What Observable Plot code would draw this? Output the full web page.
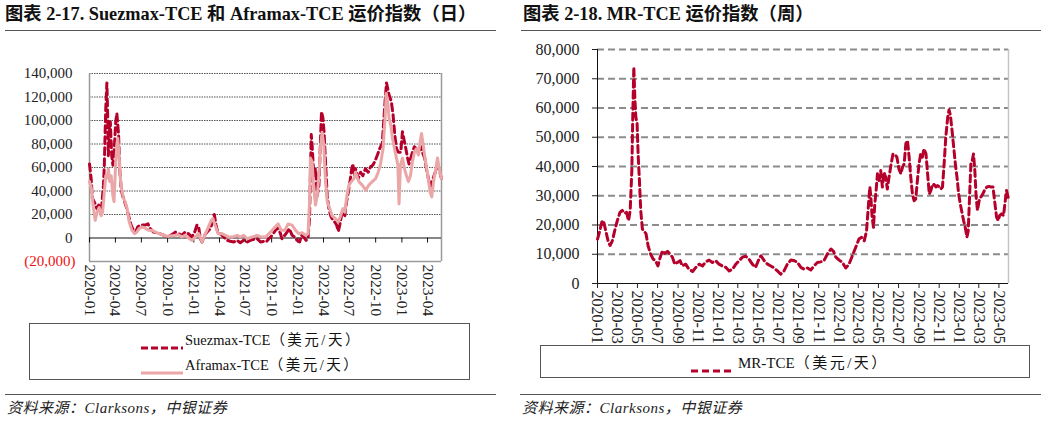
<!DOCTYPE html>
<html><head><meta charset="utf-8">
<script src="https://cdn.jsdelivr.net/npm/d3@7"></script>
<script src="https://cdn.jsdelivr.net/npm/@observablehq/plot@0.6"></script>
<style>
body{margin:0;background:#fff;}
#root{position:relative;width:1041px;height:421px;overflow:hidden;font-family:"Liberation Serif","Noto Sans CJK SC",serif;color:#111;}
.title{position:absolute;top:3px;font-weight:bold;font-size:18.3px;line-height:22px;white-space:nowrap;}
.hr{position:absolute;height:0;border-top:1.5px solid #555;}
.legend{position:absolute;border:1px solid #555;box-sizing:border-box;}
.item{position:absolute;font-size:14.5px;line-height:18px;white-space:nowrap;}
.item span{letter-spacing:2.5px;}
.sw{position:absolute;}
.src{position:absolute;top:399px;font-style:italic;font-size:15px;line-height:18px;white-space:nowrap;color:#222;letter-spacing:0.5px;}
svg.chart{position:absolute;top:0;}
</style></head><body><div id="root"></div>
<script>
// ---------- data ----------
const leftTitle = "图表 2-17. Suezmax-TCE 和 Aframax-TCE 运价指数（日）";
const rightTitle = "图表 2-18. MR-TCE 运价指数（周）";
const sourceText = "资料来源：Clarksons，中银证券";
const suezName = "Suezmax-TCE（美元/天）";
const afraName = "Aframax-TCE（美元/天）";
const mrName = "MR-TCE（美元/天）";

const leftXDomain = ["2020-01-01", "2023-05-20"];
const leftYTicks = [-20000, 0, 20000, 40000, 60000, 80000, 100000, 120000, 140000];
const leftXTicks = ["2020-01-01","2020-04-01","2020-07-01","2020-10-01","2021-01-01","2021-04-01","2021-07-01","2021-10-01","2022-01-01","2022-04-01","2022-07-01","2022-10-01","2023-01-01","2023-04-01"];

const rightXDomain = ["2020-01-01", "2023-05-30"];
const rightYTicks = [0, 10000, 20000, 30000, 40000, 50000, 60000, 70000, 80000];
const rightXTicks = ["2020-01-01","2020-03-01","2020-05-01","2020-07-01","2020-09-01","2020-11-01","2021-01-01","2021-03-01","2021-05-01","2021-07-01","2021-09-01","2021-11-01","2022-01-01","2022-03-01","2022-05-01","2022-07-01","2022-09-01","2022-11-01","2023-01-01","2023-03-01","2023-05-01"];

const suezDates = ["2020-01-01","2020-01-07","2020-01-11","2020-01-21","2020-01-27","2020-02-02","2020-02-07","2020-02-13","2020-02-19","2020-02-22","2020-02-27","2020-03-02","2020-03-05","2020-03-07","2020-03-11","2020-03-14","2020-03-19","2020-03-23","2020-03-28","2020-04-02","2020-04-06","2020-04-12","2020-04-16","2020-04-21","2020-04-26","2020-05-03","2020-05-11","2020-05-17","2020-05-26","2020-06-03","2020-06-11","2020-06-18","2020-06-27","2020-07-05","2020-07-14","2020-07-24","2020-08-01","2020-08-13","2020-08-24","2020-09-11","2020-09-29","2020-10-10","2020-10-22","2020-10-28","2020-11-08","2020-11-20","2020-12-01","2020-12-13","2020-12-25","2021-01-04","2021-01-12","2021-01-18","2021-01-24","2021-01-30","2021-02-08","2021-02-16","2021-02-28","2021-03-08","2021-03-14","2021-03-20","2021-03-27","2021-04-04","2021-04-16","2021-04-28","2021-05-09","2021-05-21","2021-06-01","2021-06-13","2021-06-25","2021-07-07","2021-07-18","2021-07-30","2021-08-11","2021-08-23","2021-09-04","2021-09-12","2021-09-21","2021-10-03","2021-10-14","2021-10-24","2021-11-01","2021-11-06","2021-11-16","2021-11-24","2021-12-02","2021-12-12","2021-12-21","2021-12-29","2022-01-07","2022-01-14","2022-01-22","2022-01-30","2022-02-06","2022-02-11","2022-02-14","2022-02-17","2022-02-20","2022-02-26","2022-03-04","2022-03-10","2022-03-16","2022-03-20","2022-03-25","2022-03-30","2022-04-03","2022-04-08","2022-04-14","2022-04-20","2022-04-26","2022-05-01","2022-05-10","2022-05-17","2022-05-23","2022-05-28","2022-06-03","2022-06-09","2022-06-15","2022-06-21","2022-06-27","2022-07-03","2022-07-09","2022-07-13","2022-07-18","2022-07-22","2022-08-01","2022-08-09","2022-08-17","2022-08-26","2022-09-05","2022-09-13","2022-09-21","2022-09-28","2022-10-07","2022-10-15","2022-10-24","2022-11-03","2022-11-08","2022-11-17","2022-11-25","2022-12-01","2022-12-07","2022-12-13","2022-12-20","2022-12-28","2023-01-03","2023-01-09","2023-01-15","2023-01-21","2023-01-26","2023-02-01","2023-02-07","2023-02-14","2023-02-21","2023-02-28","2023-03-08","2023-03-14","2023-03-22","2023-03-28","2023-04-04","2023-04-10","2023-04-18","2023-04-28","2023-05-06","2023-05-14","2023-05-20"];
const suezValues = [63000,50000,34000,29000,25000,28000,24000,28000,45000,62000,110000,132000,102000,70000,88000,99000,70000,62000,76000,99000,106000,88000,59000,42000,36000,31000,25000,19000,11000,6500,5000,9400,11000,11000,11000,12000,8000,5000,4500,3000,1000,2000,3700,5000,3700,2300,5000,3700,800,5000,11000,9400,-600,-3400,2300,5000,8000,13700,20000,11000,3700,3700,800,-2000,-2800,-3400,-2000,-4000,-2000,-3400,-2000,-1100,-600,-3400,-2800,-3400,-600,2300,6500,8500,3700,-600,2300,5000,8000,2300,800,-2000,-3400,2300,800,-2000,800,16500,53000,88000,79000,53000,59000,36000,45000,73000,107500,102000,90000,65000,36000,25000,19000,16500,13700,11000,5700,11000,19000,22000,19000,31000,39000,48000,59000,63000,53000,59000,50600,56000,53000,59000,56000,60600,62000,65000,70600,76000,80500,116000,132000,122000,116000,105000,88000,76000,73000,73000,90500,83000,76000,68000,63000,68000,73000,77700,76000,73000,77700,73000,68000,59000,50600,43500,49000,56000,62000,56000,50600];

const afraDates = ["2020-01-01","2020-01-07","2020-01-15","2020-01-21","2020-01-28","2020-02-04","2020-02-11","2020-02-16","2020-02-21","2020-02-27","2020-03-03","2020-03-07","2020-03-12","2020-03-17","2020-03-23","2020-03-27","2020-04-01","2020-04-06","2020-04-09","2020-04-14","2020-04-19","2020-04-23","2020-04-29","2020-05-05","2020-05-12","2020-05-19","2020-05-29","2020-06-07","2020-06-15","2020-06-23","2020-07-03","2020-07-14","2020-07-26","2020-08-07","2020-08-24","2020-09-11","2020-09-29","2020-10-16","2020-10-28","2020-11-08","2020-11-20","2020-12-01","2020-12-13","2020-12-25","2021-01-06","2021-01-18","2021-01-30","2021-02-08","2021-02-16","2021-02-24","2021-03-03","2021-03-09","2021-03-15","2021-03-21","2021-03-27","2021-04-10","2021-04-22","2021-05-04","2021-05-15","2021-06-02","2021-06-13","2021-06-25","2021-07-07","2021-07-24","2021-08-11","2021-08-28","2021-09-09","2021-09-27","2021-10-08","2021-10-24","2021-11-04","2021-11-16","2021-11-28","2021-12-12","2021-12-24","2022-01-04","2022-01-16","2022-01-28","2022-02-06","2022-02-11","2022-02-14","2022-02-20","2022-02-26","2022-03-04","2022-03-10","2022-03-16","2022-03-21","2022-03-27","2022-04-02","2022-04-08","2022-04-14","2022-04-23","2022-05-01","2022-05-13","2022-05-23","2022-05-31","2022-06-08","2022-06-15","2022-06-22","2022-06-29","2022-07-08","2022-07-18","2022-07-22","2022-08-03","2022-08-15","2022-08-27","2022-09-07","2022-09-19","2022-10-01","2022-10-10","2022-10-18","2022-10-27","2022-11-03","2022-11-07","2022-11-12","2022-11-17","2022-11-23","2022-11-29","2022-12-06","2022-12-13","2022-12-18","2022-12-22","2022-12-27","2023-01-03","2023-01-10","2023-01-17","2023-01-24","2023-01-31","2023-02-07","2023-02-14","2023-02-21","2023-02-28","2023-03-06","2023-03-11","2023-03-17","2023-03-23","2023-03-29","2023-04-05","2023-04-10","2023-04-16","2023-04-22","2023-04-30","2023-05-06","2023-05-12","2023-05-20"];
const afraValues = [48000,43000,25000,15000,22000,26000,19000,22000,36000,53000,51000,59000,48000,53000,36000,31000,59000,80000,85000,70000,48000,42000,34000,31000,25000,14000,6500,3700,5000,8000,9400,8500,6500,6500,4500,3000,1400,2000,2300,2800,800,2300,0,-2000,800,3700,-3400,2300,6500,11000,15000,16500,12000,8000,3700,3700,2300,800,800,2300,800,2300,-600,800,2300,800,800,5000,8000,12000,6500,6500,12000,11000,6500,3700,4500,2300,3700,31000,68000,65000,42000,28000,36000,53000,76000,90000,79000,48000,31000,25000,19000,16500,13700,19000,25000,22000,36000,45000,48000,51000,56000,48000,45000,40700,45000,48000,50600,56000,63000,76000,102000,123000,116000,102000,96000,85000,76000,68000,62000,29000,62000,68000,59000,53000,48000,53000,65000,73000,76000,70600,82000,89000,79000,68000,59000,48000,39000,35000,48000,59000,68000,59000,50600];

const mrDates = ["2020-01-01","2020-01-08","2020-01-14","2020-01-19","2020-01-26","2020-02-02","2020-02-08","2020-02-15","2020-02-22","2020-03-01","2020-03-09","2020-03-16","2020-03-23","2020-03-29","2020-04-04","2020-04-09","2020-04-14","2020-04-17","2020-04-20","2020-04-23","2020-04-26","2020-04-30","2020-05-03","2020-05-07","2020-05-11","2020-05-16","2020-05-21","2020-05-27","2020-06-02","2020-06-10","2020-06-18","2020-06-25","2020-07-02","2020-07-09","2020-07-16","2020-07-23","2020-07-31","2020-08-08","2020-08-15","2020-08-22","2020-08-30","2020-09-07","2020-09-14","2020-09-24","2020-10-04","2020-10-15","2020-10-25","2020-11-04","2020-11-14","2020-11-24","2020-12-04","2020-12-14","2020-12-24","2021-01-03","2021-01-13","2021-01-24","2021-02-03","2021-02-13","2021-02-23","2021-03-05","2021-03-15","2021-03-25","2021-04-04","2021-04-14","2021-04-24","2021-05-02","2021-05-10","2021-05-20","2021-05-30","2021-06-09","2021-06-19","2021-06-29","2021-07-09","2021-07-19","2021-07-29","2021-08-09","2021-08-19","2021-08-29","2021-09-08","2021-09-18","2021-09-28","2021-10-08","2021-10-18","2021-10-28","2021-11-07","2021-11-17","2021-11-27","2021-12-08","2021-12-16","2021-12-23","2022-01-02","2022-01-12","2022-01-22","2022-02-01","2022-02-11","2022-02-21","2022-03-03","2022-03-11","2022-03-19","2022-03-26","2022-04-01","2022-04-05","2022-04-08","2022-04-12","2022-04-16","2022-04-20","2022-04-24","2022-04-28","2022-05-03","2022-05-08","2022-05-13","2022-05-18","2022-05-23","2022-05-28","2022-06-02","2022-06-07","2022-06-14","2022-06-20","2022-06-26","2022-07-02","2022-07-08","2022-07-13","2022-07-18","2022-07-23","2022-07-28","2022-08-02","2022-08-07","2022-08-12","2022-08-17","2022-08-22","2022-08-27","2022-09-01","2022-09-06","2022-09-11","2022-09-16","2022-09-22","2022-09-27","2022-10-02","2022-10-07","2022-10-12","2022-10-17","2022-10-22","2022-10-27","2022-11-01","2022-11-06","2022-11-11","2022-11-16","2022-11-21","2022-11-27","2022-12-01","2022-12-05","2022-12-10","2022-12-15","2022-12-20","2022-12-25","2022-12-30","2023-01-04","2023-01-09","2023-01-14","2023-01-19","2023-01-24","2023-01-28","2023-02-01","2023-02-05","2023-02-09","2023-02-13","2023-02-17","2023-02-21","2023-02-25","2023-03-02","2023-03-07","2023-03-13","2023-03-20","2023-03-26","2023-04-01","2023-04-07","2023-04-13","2023-04-19","2023-04-24","2023-04-29","2023-05-03","2023-05-09","2023-05-15","2023-05-19","2023-05-24","2023-05-30"];
const mrValues = [15200,18000,21000,21500,18000,14600,13000,14600,18000,21500,24300,25000,24000,24300,21500,25000,38600,58000,74000,63800,57000,54600,44300,35200,25000,18600,18000,17000,13000,10000,8300,7800,6000,9000,11200,10300,11000,10000,9000,6600,7200,7800,6000,6600,4900,4100,5500,6600,6000,7400,8000,7200,7800,6600,6000,5500,4300,4900,6600,7800,9000,9300,8300,6600,5500,7800,9500,7800,6600,6000,5300,4300,3200,4300,6600,8000,7800,7200,5500,4900,5300,4600,6000,7200,7400,7800,10000,11800,11000,9000,8000,7200,5300,6600,9500,12300,15200,15800,14600,18000,27200,33000,29500,22600,19200,27200,31800,37500,35200,38600,33000,38000,36300,32300,36300,39800,44300,44100,43200,39200,37500,39800,40900,47800,48900,43200,36300,30600,28300,28900,35200,40900,44300,43200,46000,44300,37500,30600,31800,34000,33800,33000,33500,33000,32300,33000,40900,50000,57000,59400,57500,52300,46600,40900,36300,30600,27200,24300,21500,19200,15800,18000,29500,40900,42000,44300,38600,29500,25000,28300,29500,30600,32300,33000,33200,33000,33000,27200,22600,21500,23200,23800,23200,27200,31800,28900];

// ---------- build ----------
const parse = d3.utcParse("%Y-%m-%d");
const toRows = (ds, vs) => ds.map((d, i) => ({date: parse(d), value: vs[i]}));
const suez = toRows(suezDates, suezValues);
const afra = toRows(afraDates, afraValues);
const mr = toRows(mrDates, mrValues);
const fmt = d3.format(",");
const fmtParen = v => v < 0 ? "(" + fmt(-v) + ")" : fmt(v);

const root = document.getElementById("root");
const DARK = "#b5002b", PINK = "#eba7a7";

const leftDom = leftXDomain.map(parse);
const left = Plot.plot({
  width: 520, height: 310,
  marginLeft: 89, marginRight: 79, marginTop: 73, marginBottom: 49,
  x: {type: "utc", domain: leftDom, axis: null},
  y: {domain: [leftYTicks[0], leftYTicks[leftYTicks.length - 1]], axis: null},
  style: {fontFamily: "'Liberation Serif', serif", fontSize: "15px", color: "#222", background: "transparent", overflow: "visible"},
  marks: [
    Plot.ruleY(leftYTicks.filter(v => v > 0), {stroke: "#555", strokeWidth: 1, strokeDasharray: "1.5,1"}),
    Plot.ruleX(leftDom, {stroke: "#9a9a9a", strokeWidth: 1.5}),
    Plot.ruleY([leftYTicks[0]], {stroke: "#9a9a9a", strokeWidth: 1.5}),
    Plot.ruleY([0], {stroke: "#111", strokeWidth: 1.2}),
    Plot.ruleX(leftXTicks.map(parse), {y1: 0, y2: 0, insetBottom: -5, stroke: "#111", strokeWidth: 1}),
    Plot.axisY(leftYTicks.filter(v => v >= 0), {label: null, tickSize: 0, tickPadding: 17, tickFormat: fmtParen, fontSize: 15}),
    Plot.axisY(leftYTicks.filter(v => v < 0), {label: null, tickSize: 0, tickPadding: 14, tickFormat: fmtParen, fontSize: 15, fill: "#ee1111"}),
    Plot.axisX(leftXTicks.map(parse), {label: null, tickSize: 0, tickPadding: 3, tickRotate: 90, tickFormat: d3.utcFormat("%Y-%m"), fontSize: 15.5}),
    Plot.line(suez, {x: "date", y: "value", stroke: DARK, strokeWidth: 3, strokeDasharray: "7,4"}),
    Plot.line(afra, {x: "date", y: "value", stroke: PINK, strokeWidth: 3})
  ]
});
left.classList.add("chart");
left.style.left = "0px";
root.appendChild(left);

const rightDom = rightXDomain.map(parse);
const right = Plot.plot({
  width: 521, height: 345,
  marginLeft: 77, marginRight: 33, marginTop: 49, marginBottom: 62,
  x: {type: "utc", domain: rightDom, axis: null},
  y: {domain: [rightYTicks[0], rightYTicks[rightYTicks.length - 1]], axis: null},
  style: {fontFamily: "'Liberation Serif', serif", fontSize: "16px", color: "#222", background: "transparent", overflow: "visible"},
  marks: [
    Plot.ruleY(rightYTicks.filter(v => v > 0), {stroke: "#8c8c8c", strokeWidth: 2, strokeDasharray: "7,4"}),
    Plot.ruleX([rightDom[1]], {stroke: "#c4c4c4", strokeWidth: 1.5}),
    Plot.ruleX([rightDom[0]], {stroke: "#111", strokeWidth: 1}),
    Plot.ruleY([0], {stroke: "#111", strokeWidth: 1}),
    Plot.axisY(rightYTicks, {label: null, tickSize: 5, tickPadding: 13, tickFormat: fmt, fontSize: 16}),
    Plot.axisX(rightXTicks.map(parse), {label: null, tickSize: 5, tickPadding: 2, tickRotate: 90, tickFormat: d3.utcFormat("%Y-%m"), fontSize: 16}),
    Plot.line(mr, {x: "date", y: "value", stroke: DARK, strokeWidth: 3, strokeDasharray: "7,4"})
  ]
});
right.classList.add("chart");
right.style.left = "520px";
root.appendChild(right);

// ---------- html text / legends ----------
function el(cls, styles, text) {
  const d = document.createElement("div");
  d.className = cls;
  Object.assign(d.style, styles);
  if (text != null) d.textContent = text;
  return d;
}
function item(styles, name) {
  const d = el("item", styles);
  const k = name.indexOf("（");
  d.appendChild(document.createTextNode(name.slice(0, k)));
  const sp = document.createElement("span");
  sp.textContent = name.slice(k);
  d.appendChild(sp);
  return d;
}
function swatch(color, dash) {
  const ns = "http://www.w3.org/2000/svg";
  const s = document.createElementNS(ns, "svg");
  s.setAttribute("width", 42); s.setAttribute("height", 6);
  const l = document.createElementNS(ns, "line");
  l.setAttribute("x1", 0); l.setAttribute("x2", 42); l.setAttribute("y1", 3); l.setAttribute("y2", 3);
  l.setAttribute("stroke", color); l.setAttribute("stroke-width", 3);
  if (dash) l.setAttribute("stroke-dasharray", dash);
  s.appendChild(l);
  return s;
}

root.appendChild(el("title", {left: "5px"}, leftTitle));
root.appendChild(el("title", {left: "523px"}, rightTitle));
root.appendChild(el("hr", {left: "5px", width: "491px", top: "30px"}));
root.appendChild(el("hr", {left: "521px", width: "520px", top: "30px"}));
root.appendChild(el("hr", {left: "5px", width: "491px", top: "393.5px"}));
root.appendChild(el("hr", {left: "520px", width: "521px", top: "393.5px"}));
root.appendChild(el("src", {left: "7px"}, sourceText));
root.appendChild(el("src", {left: "522px"}, sourceText));

const lg1 = el("legend", {left: "29px", top: "323px", width: "441px", height: "57px"});
const s1 = el("sw", {left: "111px", top: "13px"}); s1.appendChild(swatch(DARK, "7,3")); lg1.appendChild(s1);
lg1.appendChild(item({left: "155px", top: "7px"}, suezName));
const s2 = el("sw", {left: "111px", top: "38px"}); s2.appendChild(swatch(PINK, null)); lg1.appendChild(s2);
lg1.appendChild(item({left: "155px", top: "32px"}, afraName));
root.appendChild(lg1);

const lg2 = el("legend", {left: "540px", top: "345px", width: "490px", height: "33px"});
const s3 = el("sw", {left: "150px", top: "14px"}); s3.appendChild(swatch(DARK, "7,4")); lg2.appendChild(s3);
lg2.appendChild(item({left: "197px", top: "8px", fontSize: "15px"}, mrName));
root.appendChild(lg2);
</script>
</body></html>
